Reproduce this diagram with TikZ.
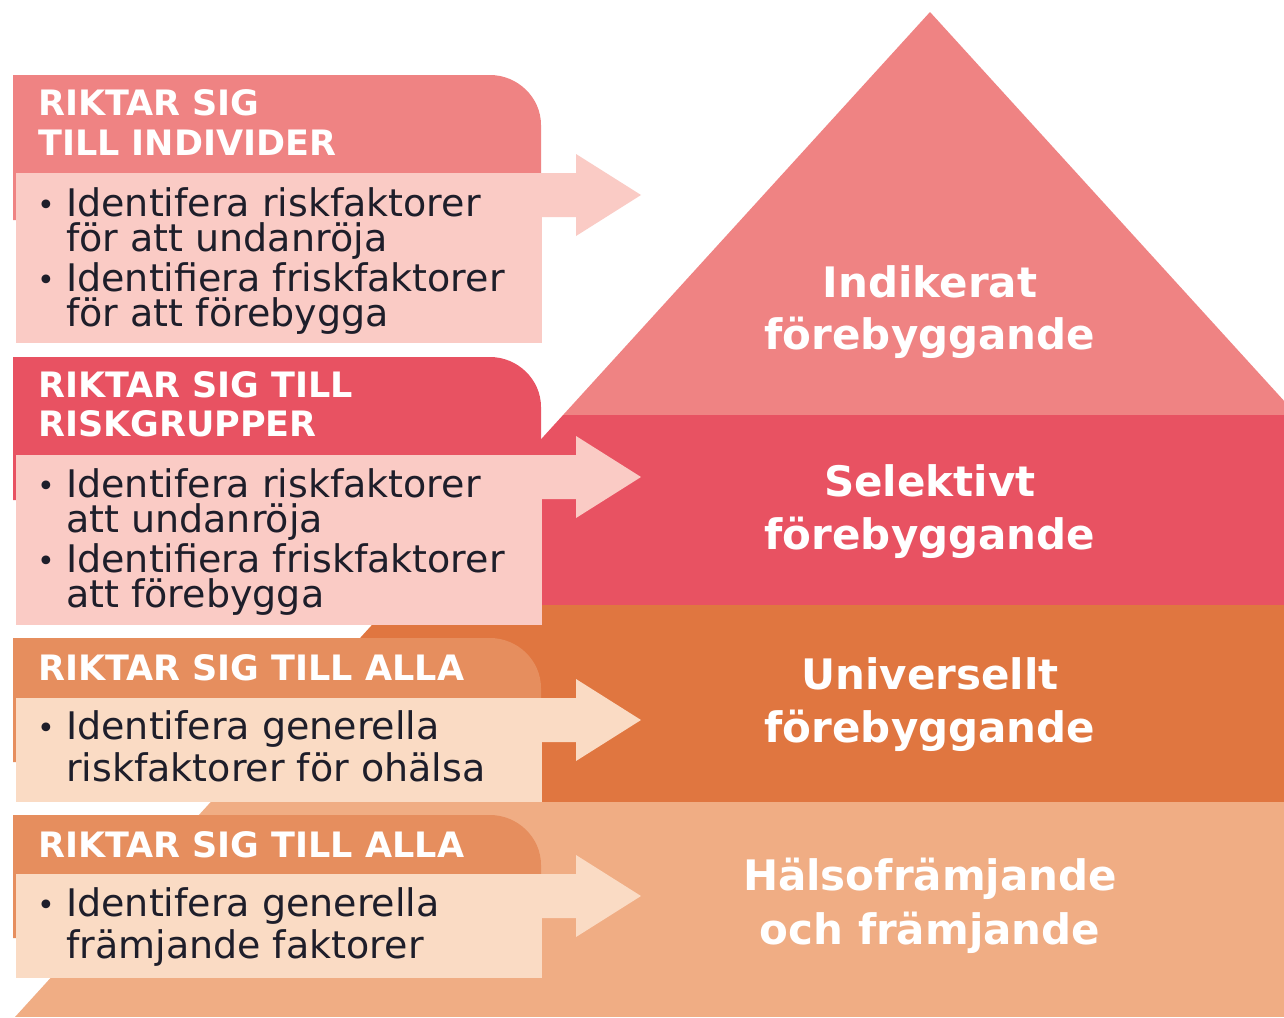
\documentclass[tikz,border=0pt]{standalone}
\usepackage{fontspec}
\setmainfont{DejaVu Sans}
\definecolor{pyrA}{HTML}{EF8383}
\definecolor{pyrB}{HTML}{E85262}
\definecolor{pyrC}{HTML}{E07640}
\definecolor{pyrD}{HTML}{F0AD84}
\definecolor{hdrC}{HTML}{E68E5E}
\definecolor{bodyP}{HTML}{FACBC5}
\definecolor{bodyO}{HTML}{FADBC4}
\definecolor{txtcol}{HTML}{1E1E2A}
% #1 header colour, #2 body colour, #3 header top, #4 body top, #5 body bottom, #6 strip length
\newcommand\prevbox[6]{%
  \fill[#1] (13,#4+#6) -- (13,#3) -- (490,#3) .. controls (517.6,#3) and (541,#3+22.4) .. (541,#3+50) -- (541,#4+10) -- (16,#4+10) -- (16,#4+#6) -- cycle;
  \fill[#2] (16,#4) rectangle (542,#5);
  \fill[#2] (541,#4) -- (576,#4) -- (576,#4-19) -- (641,#4+22) -- (576,#4+63) -- (576,#4+44) -- (541,#4+44) -- cycle;
}
\begin{document}
\begin{tikzpicture}[x=1pt,y={(0pt,-1pt)},
  hdrtext/.style={text=white, font=\fontsize{35}{40}\selectfont\bfseries, anchor=base west, inner sep=0pt},
  bodytext/.style={text=txtcol, font=\fontsize{38}{44}\selectfont, anchor=base west, inner sep=0pt},
  bultext/.style={text=txtcol, font=\fontsize{30}{36}\selectfont, anchor=base west, inner sep=0pt},
  pyrtext/.style={text=white, font=\fontsize{42}{48}\selectfont\bfseries, anchor=base, inner sep=0pt}]
\useasboundingbox (0,0) rectangle (1284,1017);
\fill[white] (0,0) rectangle (1284,1017);
% pyramid
\begin{scope}
  \clip (0,0) rectangle (1284,1017);
  \clip (930,12) -- (1845,1017) -- (15,1017) -- cycle;
  \fill[pyrA] (0,0) rectangle (1284,415);
  \fill[pyrB] (0,415) rectangle (1284,605);
  \fill[pyrC] (0,605) rectangle (1284,802);
  \fill[pyrD] (0,802) rectangle (1284,1017);
\end{scope}
% pyramid labels
\node[pyrtext] (p1a) at (930,297) {Indikerat};
\node[pyrtext] (p1b) at (930,349) {förebyggande};
\node[pyrtext] (p2a) at (930,496) {Selektivt};
\node[pyrtext] (p2b) at (930,549) {förebyggande};
\node[pyrtext] (p3a) at (930,689) {Universellt};
\node[pyrtext] (p3b) at (930,742) {förebyggande};
\node[pyrtext] (p4a) at (930,890) {Hälsofrämjande};
\node[pyrtext] (p4b) at (930,944) {och främjande};
% boxes
\prevbox{pyrA}{bodyP}{75}{173}{343}{47}
\prevbox{pyrB}{bodyP}{357}{455}{625}{45}
\prevbox{hdrC}{bodyO}{638}{698}{802}{64}
\prevbox{hdrC}{bodyO}{815}{874}{978}{64}
% box 1
\node[hdrtext] (h1a) at (38,115) {RIKTAR SIG};
\node[hdrtext] (h1b) at (38,155) {TILL INDIVIDER};
\node[bultext] (u1a) at (37,215) {•};
\node[bodytext] (t1a) at (66,216) {Identifera riskfaktorer};
\node[bodytext] (t1b) at (66,251) {för att undanröja};
\node[bultext] (u1b) at (37,290) {•};
\node[bodytext] (t1c) at (66,291) {Identifiera friskfaktorer};
\node[bodytext] (t1d) at (66,326) {för att förebygga};
% box 2
\node[hdrtext] (h2a) at (38,397) {RIKTAR SIG TILL};
\node[hdrtext] (h2b) at (38,436) {RISKGRUPPER};
\node[bultext] (u2a) at (37,496) {•};
\node[bodytext] (t2a) at (66,497) {Identifera riskfaktorer};
\node[bodytext] (t2b) at (66,532) {att undanröja};
\node[bultext] (u2b) at (37,571) {•};
\node[bodytext] (t2c) at (66,572) {Identifiera friskfaktorer};
\node[bodytext] (t2d) at (66,607) {att förebygga};
% box 3
\node[hdrtext] (h3a) at (38,680) {RIKTAR SIG TILL ALLA};
\node[bultext] (u3a) at (37,738) {•};
\node[bodytext] (t3a) at (66,739) {Identifera generella};
\node[bodytext] (t3b) at (66,781) {riskfaktorer för ohälsa};
% box 4
\node[hdrtext] (h4a) at (38,857) {RIKTAR SIG TILL ALLA};
\node[bultext] (u4a) at (37,915) {•};
\node[bodytext] (t4a) at (66,916) {Identifera generella};
\node[bodytext] (t4b) at (66,958) {främjande faktorer};
\end{tikzpicture}
\end{document}
